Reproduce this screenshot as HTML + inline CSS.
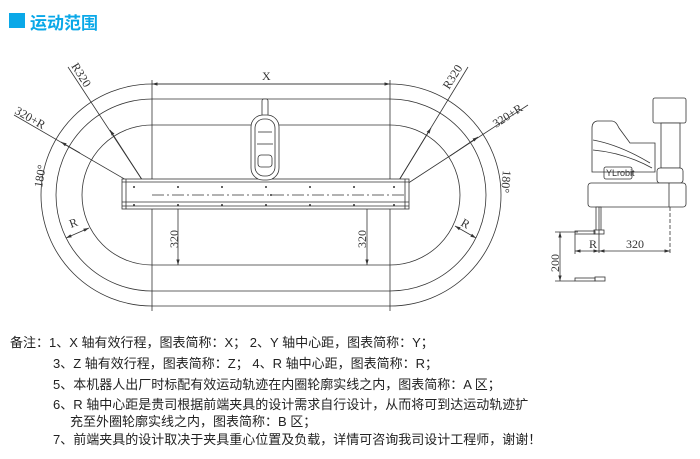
<!DOCTYPE html>
<html><head><meta charset="utf-8"><style>
body{margin:0;width:700px;height:459px;background:#fff;overflow:hidden;position:relative;font-family:"Liberation Sans","Noto Sans CJK SC",sans-serif}
.t{position:absolute;left:30px;top:9px;font-size:17px;font-weight:bold;color:#0aa8e8;font-family:"Noto Sans CJK SC",sans-serif}
.sq{position:absolute;left:9px;top:13px;width:16px;height:15px;background:#0aa8e8}
.n{position:absolute;font-size:13px;color:#222;white-space:nowrap;font-family:"Liberation Sans","Noto Sans CJK SC",sans-serif}
svg{position:absolute;left:0;top:0}
</style></head><body>
<div class="sq"></div><div class="t">运动范围</div>
<svg width="700" height="320" viewBox="0 0 700 320" font-family="Liberation Serif,serif" font-size="12" fill="none" stroke="#333" stroke-width="0.8">
<defs><marker id="a" viewBox="0 0 10 10" refX="10" refY="5" markerWidth="7" markerHeight="7" orient="auto-start-reverse"><path d="M0,2L10,5L0,8z" fill="#333" stroke="none"/></marker></defs>
<path d="M152,84H390A111,111 0 0 1 390,306H152A111,111 0 0 1 152,84Z"/>
<path d="M152,99H390A96,96 0 0 1 390,291H152A96,96 0 0 1 152,99Z"/>
<path d="M152,125H390A70,70 0 0 1 390,265H152A70,70 0 0 1 152,125Z"/>
<line x1="152" y1="80" x2="152" y2="311"/><line x1="390" y1="80" x2="390" y2="311"/>
<line x1="152" y1="84" x2="390" y2="84" marker-start="url(#a)" marker-end="url(#a)"/>
<text x="262" y="80" fill="#333" stroke="none">X</text>
<line x1="152" y1="195" x2="68" y2="67"/><line x1="68" y1="67" x2="88" y2="67" stroke="none"/>
<line x1="152" y1="195" x2="110" y2="130" marker-end="url(#a)"/>
<line x1="152" y1="195" x2="14" y2="115"/><line x1="80" y1="153" x2="61" y2="142" marker-end="url(#a)"/>
<line x1="390" y1="195" x2="468" y2="67"/><line x1="390" y1="195" x2="431" y2="128" marker-end="url(#a)"/>
<line x1="390" y1="195" x2="528" y2="105"/><line x1="450" y1="156" x2="478" y2="137" marker-end="url(#a)"/>
<text transform="translate(71,66) rotate(58)" fill="#333" stroke="none">R320</text>
<text transform="translate(16,65) rotate(30) translate(0,55)" fill="#333" stroke="none"> </text>
<text transform="translate(14,113) rotate(30)" fill="#333" stroke="none">320+R</text>
<text transform="translate(449,90) rotate(-58)" fill="#333" stroke="none">R320</text>
<text transform="translate(496,128) rotate(-33)" fill="#333" stroke="none">320+R</text>
<text transform="translate(42,188) rotate(-80)" fill="#333" stroke="none">180°</text>
<text transform="translate(503,170) rotate(95)" fill="#333" stroke="none">180°</text>
<line x1="66" y1="238" x2="89" y2="228" marker-start="url(#a)" marker-end="url(#a)"/>
<text transform="translate(71,228) rotate(-20)" fill="#333" stroke="none">R</text>
<line x1="455" y1="226" x2="476" y2="238" marker-start="url(#a)" marker-end="url(#a)"/>
<text transform="translate(460,225) rotate(30)" fill="#333" stroke="none">R</text>
<line x1="178" y1="196" x2="178" y2="265" marker-start="url(#a)" marker-end="url(#a)"/>
<text transform="translate(178,248) rotate(-90)" fill="#333" stroke="none">320</text>
<line x1="367" y1="196" x2="367" y2="265" marker-start="url(#a)" marker-end="url(#a)"/>
<text transform="translate(366,248) rotate(-90)" fill="#333" stroke="none">320</text>
<!-- rail -->
<rect x="122" y="179" width="287" height="30" fill="#fff"/>
<line x1="122" y1="182" x2="409" y2="182"/><line x1="122" y1="202" x2="409" y2="202"/><line x1="122" y1="206" x2="409" y2="206"/>
<line x1="152" y1="195" x2="405" y2="195" stroke-dasharray="12 3 2 3"/>
<line x1="126" y1="179" x2="126" y2="209"/><line x1="405" y1="179" x2="405" y2="209"/>
<g fill="#333" stroke="none"><circle cx="134" cy="187" r="1"/><circle cx="178" cy="187" r="1"/><circle cx="222" cy="187" r="1"/><circle cx="266" cy="187" r="1"/><circle cx="310" cy="187" r="1"/><circle cx="354" cy="187" r="1"/><circle cx="394" cy="187" r="1"/>
<circle cx="134" cy="205" r="1"/><circle cx="178" cy="205" r="1"/><circle cx="222" cy="205" r="1"/><circle cx="266" cy="205" r="1"/><circle cx="310" cy="205" r="1"/><circle cx="354" cy="205" r="1"/><circle cx="394" cy="205" r="1"/><circle cx="271" cy="195" r="1"/></g>
<!-- arm -->
<rect x="262" y="99" width="6" height="18" rx="2" fill="#fff"/>
<rect x="251" y="115" width="28" height="65" rx="12" fill="#fff"/>
<rect x="255" y="119" width="20" height="57" rx="9"/>
<rect x="258" y="155" width="14" height="12" rx="3"/>
<line x1="258" y1="132" x2="272" y2="132"/><line x1="257" y1="144" x2="273" y2="144"/>
<!-- side robot -->
<path d="M592,128Q592,122 597,121H612Q616,121 619,128L630,143H655V172H592Z" fill="#fff"/>
<path d="M593,140Q620,145 650,163"/><path d="M593,150Q625,153 652,168"/>
<rect x="604" y="167" width="28" height="12" rx="2"/>
<text x="606" y="176" font-size="9" font-family="Liberation Sans" fill="#333" stroke="none">YLrobit</text>
<rect x="653" y="98" width="33" height="25" rx="2" fill="#fff"/>
<rect x="661" y="123" width="19" height="45" fill="#fff"/>
<rect x="657" y="168" width="26" height="15" rx="3" fill="#fff"/>
<rect x="588" y="183" width="98" height="24" rx="3" fill="#fff"/>
<line x1="669" y1="183" x2="669" y2="207"/>
<rect x="596" y="207" width="5" height="24" fill="#fff"/>
<rect x="594" y="230" width="10" height="4" fill="#fff"/>
<rect x="575" y="231" width="20" height="3"/>
<rect x="575" y="278" width="20" height="3"/><rect x="595" y="277" width="10" height="4"/>
<line x1="599" y1="207" x2="599" y2="253"/><line x1="670" y1="207" x2="670" y2="254" stroke-dasharray="4 2"/>
<line x1="575" y1="234" x2="575" y2="254"/>
<line x1="555" y1="232" x2="578" y2="232"/><line x1="555" y1="281" x2="575" y2="281"/>
<line x1="560" y1="232" x2="560" y2="281" marker-start="url(#a)" marker-end="url(#a)"/>
<text transform="translate(559,272) rotate(-90)" fill="#333" stroke="none">200</text>
<line x1="575" y1="251" x2="599" y2="251" marker-start="url(#a)" marker-end="url(#a)"/>
<line x1="599" y1="251" x2="670" y2="251" marker-start="url(#a)" marker-end="url(#a)"/>
<text x="589" y="248" fill="#333" stroke="none">R</text>
<text x="626" y="248" fill="#333" stroke="none">320</text>
</svg>
<div class="n" style="left:10px;top:332px">备注：1、X 轴有效行程，图表简称：X；&nbsp;2、Y 轴中心距，图表简称：Y；</div>
<div class="n" style="left:53px;top:353px">3、Z 轴有效行程，图表简称：Z；&nbsp;4、R 轴中心距，图表简称：R；</div>
<div class="n" style="left:53px;top:374px">5、本机器人出厂时标配有效运动轨迹在内圈轮廓实线之内，图表简称：A 区；</div>
<div class="n" style="left:53px;top:394px">6、R 轴中心距是贵司根据前端夹具的设计需求自行设计，从而将可到达运动轨迹扩</div>
<div class="n" style="left:70px;top:411px">充至外圈轮廓实线之内，图表简称：B 区；</div>
<div class="n" style="left:53px;top:429px">7、前端夹具的设计取决于夹具重心位置及负载，详情可咨询我司设计工程师，谢谢！</div>
</body></html>
